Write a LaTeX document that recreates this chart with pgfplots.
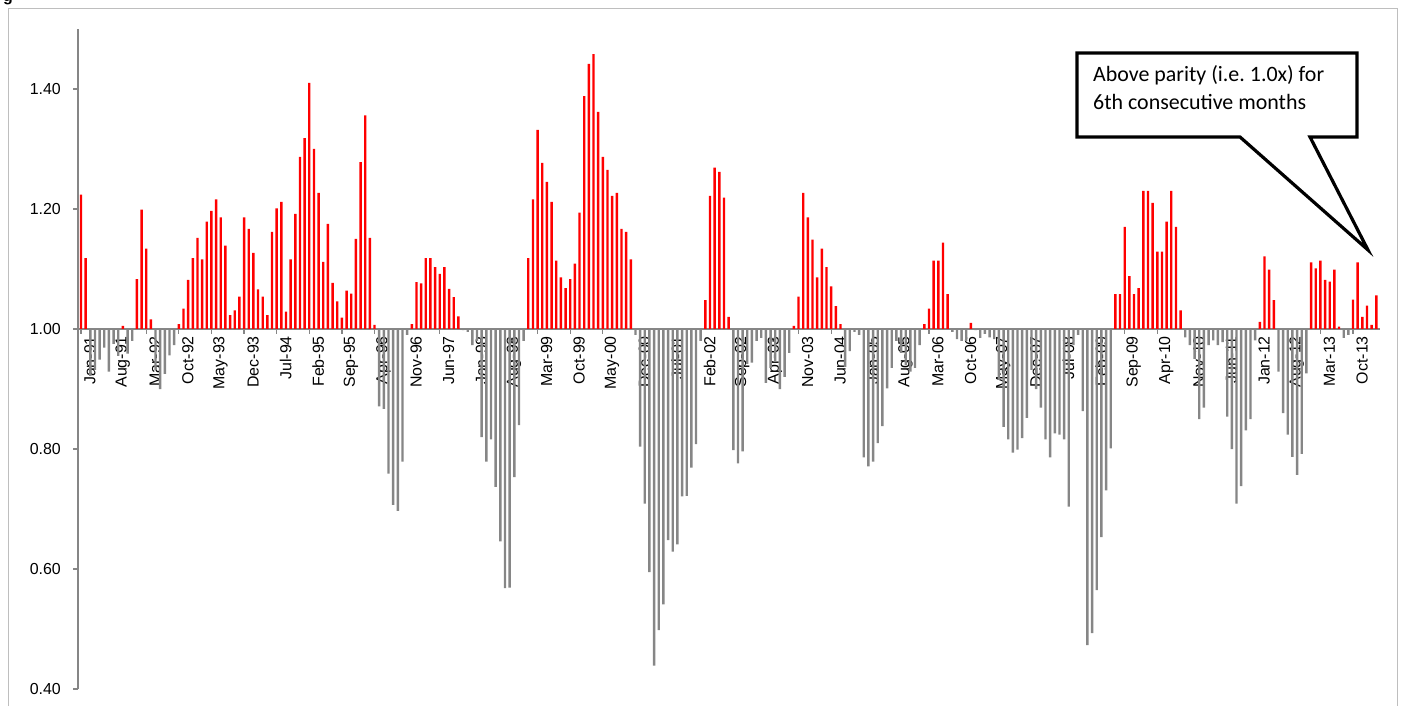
\documentclass[border=0pt]{standalone}
\usepackage{fontspec}
\setmainfont{Liberation Sans}
\newfontfamily\calibri{Carlito}
\usepackage{pgfplots}
\usepackage{pgfplotstable}
\pgfplotsset{compat=1.18}
\definecolor{barred}{RGB}{255,0,0}
\definecolor{bargray}{RGB}{134,134,134}
\definecolor{axgray}{RGB}{134,134,134}
\definecolor{framegray}{RGB}{190,190,190}

\pgfplotstableread{
v
1.224
1.118
0.922
0.932
0.949
0.969
0.929
0.975
0.955
1.005
0.959
0.980
1.083
1.199
1.134
1.016
0.932
0.900
0.925
0.956
0.973
1.008
1.034
1.082
1.118
1.152
1.116
1.179
1.197
1.216
1.186
1.139
1.023
1.031
1.054
1.186
1.167
1.127
1.066
1.054
1.023
1.162
1.201
1.212
1.029
1.116
1.192
1.287
1.318
1.410
1.300
1.227
1.112
1.175
1.077
1.046
1.019
1.064
1.059
1.150
1.278
1.356
1.152
1.007
0.871
0.867
0.759
0.707
0.697
0.779
0.990
1.008
1.078
1.076
1.118
1.118
1.103
1.092
1.103
1.067
1.053
1.021
0.998
0.995
0.973
0.980
0.820
0.779
0.816
0.737
0.646
0.568
0.569
0.753
0.840
0.980
1.118
1.216
1.332
1.277
1.245
1.212
1.114
1.086
1.068
1.083
1.109
1.194
1.388
1.442
1.458
1.362
1.287
1.265
1.222
1.227
1.167
1.162
1.116
0.990
0.804
0.709
0.595
0.439
0.498
0.541
0.648
0.629
0.641
0.721
0.722
0.769
0.808
0.980
1.048
1.222
1.269
1.262
1.219
1.020
0.798
0.776
0.796
0.942
0.944
0.980
0.985
0.910
0.935
0.945
0.900
0.920
0.960
1.005
1.054
1.227
1.186
1.149
1.086
1.134
1.103
1.071
1.038
1.008
0.937
0.963
0.995
0.990
0.786
0.771
0.779
0.810
0.838
0.901
0.935
0.980
0.960
0.940
0.929
0.935
0.973
1.008
1.034
1.114
1.114
1.144
1.058
0.995
0.983
0.980
0.980
1.010
0.998
0.985
0.992
0.986
0.983
0.915
0.837
0.816
0.794
0.799
0.818
0.852
0.932
0.900
0.869
0.816
0.786
0.826
0.824
0.816
0.704
0.973
0.990
0.863
0.473
0.493
0.565
0.653
0.731
0.801
1.058
1.058
1.170
1.088
1.058
1.068
1.230
1.230
1.210
1.129
1.129
1.179
1.230
1.170
1.031
0.986
0.973
0.950
0.850
0.869
0.973
0.981
0.973
0.978
0.854
0.800
0.709
0.738
0.831
0.850
0.981
1.012
1.121
1.099
1.048
0.929
0.860
0.824
0.787
0.757
0.792
0.926
1.111
1.101
1.114
1.082
1.079
1.099
1.004
0.985
0.990
1.049
1.111
1.020
1.039
1.007
1.056
}\ratio

\begin{document}
\begin{tikzpicture}
\begin{scope}[shift={(-78bp,689bp)}, x=1bp, y=-1bp]
\draw[framegray, line width=1bp] (8.5,706) -- (8.5,8.5) -- (1397.5,8.5) -- (1397.5,706);
\end{scope}
\begin{axis}[
  at={(0,0)}, anchor=south west,
  scale only axis, width=1302bp, height=660bp,
  xmin=-0.64, xmax=278.8, ymin=-0.6, ymax=0.5,
  axis x line=middle, axis y line=left,
  x axis line style={-, axgray, line width=1.3bp},
  y axis line style={-, axgray, line width=1.3bp},
  hide obscured x ticks=false, hide obscured y ticks=false,
  tick align=outside,
  major tick length=5bp,
  major tick style={axgray, line width=1.2bp},
  xtick={0,7,...,273},
  xticklabels={Jan-91,Aug-91,Mar-92,Oct-92,May-93,Dec-93,Jul-94,Feb-95,Sep-95,Apr-96,Nov-96,Jun-97,Jan-98,Aug-98,Mar-99,Oct-99,May-00,Dec-00,Jul-01,Feb-02,Sep-02,Apr-03,Nov-03,Jun-04,Jan-05,Aug-05,Mar-06,Oct-06,May-07,Dec-07,Jul-08,Feb-09,Sep-09,Apr-10,Nov-10,Jun-11,Jan-12,Aug-12,Mar-13,Oct-13},
  x tick label style={rotate=90, anchor=east, font=\fontsize{16}{18}\selectfont, inner sep=2bp, yshift=-9bp},
  ytick={-0.6,-0.4,-0.2,0,0.2,0.4},
  yticklabels={0.40,0.60,0.80,1.00,1.20,1.40},
  y tick label style={font=\fontsize{16}{18}\selectfont, inner sep=2bp, xshift=-10bp},
  clip=false,
]
\addplot[ybar, bar width=2.4bp, bar shift=0pt, fill=barred, draw=none,
  y filter/.expression={y>1 ? y-1 : nan}]
  table[x expr=\coordindex, y=v] {\ratio};
\addplot[ybar, bar width=2.4bp, bar shift=0pt, fill=bargray, draw=none,
  y filter/.expression={y<1 ? y-1 : nan}]
  table[x expr=\coordindex, y=v] {\ratio};
\end{axis}
\begin{scope}[shift={(-78bp,689bp)}, x=1bp, y=-1bp]
\filldraw[fill=white, draw=black, line width=3.2bp, line join=miter]
  (1077,53) -- (1357,53) -- (1357,137) -- (1310,137) -- (1368,250) -- (1240,137) -- (1077,137) -- cycle;
\node[anchor=base west, inner sep=0, font=\calibri\fontsize{22}{26}\selectfont] at (1093,82) {Above parity (i.e.\ 1.0x) for};
\node[anchor=base west, inner sep=0, font=\calibri\fontsize{22}{26}\selectfont] at (1093,110) {6th consecutive months};
\node[anchor=base west, inner sep=0, font=\bfseries\fontsize{16}{18}\selectfont] at (3,2) {g};
\pgfresetboundingbox
\path[use as bounding box] (0,0) rectangle (1404,706);
\end{scope}
\end{tikzpicture}
\end{document}
